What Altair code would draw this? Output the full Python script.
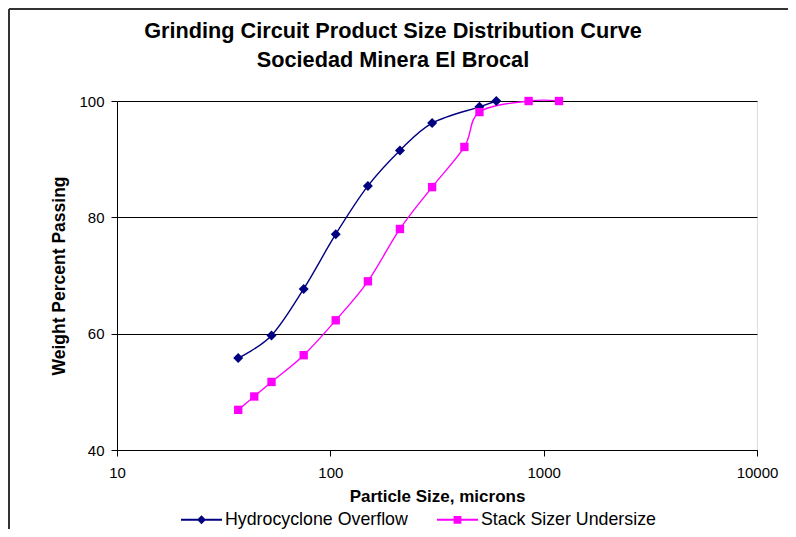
import altair as alt
import pandas as pd

# Hydrocyclone Overflow
hydro_size = [37, 53, 75, 106, 150, 212, 300, 500, 600]
hydro_pass = [55.8, 59.7, 67.7, 77.1, 85.4, 91.5, 96.2, 99.0, 100.0]

# Stack Sizer Undersize
stack_size = [37, 44, 53, 75, 106, 150, 212, 300, 425, 500, 850, 1180]
stack_pass = [46.9, 49.2, 51.7, 56.3, 62.3, 69.0, 78.0, 85.2, 92.1, 98.1, 100.0, 100.0]

series_names = ["Hydrocyclone Overflow", "Stack Sizer Undersize"]
series_colors = ["#000080", "#FF00FF"]

x_ticks = [10, 100, 1000, 10000]
y_ticks = [40, 60, 80, 100]

rows = []
for s, p in zip(hydro_size, hydro_pass):
    rows.append({"series": series_names[0], "size": s, "pass": p})
for s, p in zip(stack_size, stack_pass):
    rows.append({"series": series_names[1], "size": s, "pass": p})
df = pd.DataFrame(rows)

FONT = "Liberation Sans"

# legend symbols: line with marker
diamond_path = ("M-1,-0.05L-0.17,-0.05L0,-0.22L0.17,-0.05L1,-0.05L1,0.05"
                "L0.17,0.05L0,0.22L-0.17,0.05L-1,0.05Z")
square_path = ("M-1,-0.05L-0.19,-0.05L-0.19,-0.19L0.19,-0.19L0.19,-0.05L1,-0.05"
               "L1,0.05L0.19,0.05L0.19,0.19L-0.19,0.19L-0.19,0.05L-1,0.05Z")

x_enc = alt.X(
    "size:Q",
    scale=alt.Scale(type="log", domain=[10, 10000], nice=False),
    axis=alt.Axis(values=x_ticks, format="d", title="Particle Size, microns",
                  grid=False, tickSize=6, labelPadding=9, titlePadding=8,
                  labelFontSize=15, titleFontSize=17, titleFontWeight="bold",
                  labelFont=FONT, titleFont=FONT, labelColor="black",
                  titleColor="black", domainColor="black", tickColor="black",
                  labelFlush=False),
)
y_enc = alt.Y(
    "pass:Q",
    scale=alt.Scale(domain=[40, 100], nice=False, zero=False),
    axis=alt.Axis(values=y_ticks, title="Weight Percent Passing",
                  grid=True, gridColor="black", gridWidth=1, tickSize=6,
                  labelPadding=7, titlePadding=10,
                  labelFontSize=15, titleFontSize=17.5, titleFontWeight="bold",
                  labelFont=FONT, titleFont=FONT, labelColor="black",
                  titleColor="black", domainColor="black", tickColor="black",
                  labelFlush=False),
)

color_scale = alt.Scale(domain=series_names, range=series_colors)

base = alt.Chart(df)

leg = alt.Legend(
    title=None, orient="none", legendX=64, legendY=398, direction="horizontal",
    symbolSize=1681, symbolStrokeWidth=0, symbolOpacity=1,
    labelFontSize=17.8, labelFont=FONT, labelColor="black", labelOffset=3,
    columnPadding=29, labelLimit=400,
)

# legend-only layer (first, so its legend settings win): no rows drawn
legend_layer = base.transform_filter("datum.size < 0").mark_point(filled=True).encode(
    x=x_enc, y=y_enc,
    color=alt.Color("series:N", scale=color_scale, legend=leg),
    shape=alt.Shape("series:N", scale=alt.Scale(domain=series_names,
                                                range=[diamond_path, square_path]),
                    legend=leg),
)

lines = base.mark_line(interpolate="cardinal", strokeWidth=1.4, clip=False).encode(
    x=x_enc, y=y_enc,
    color=alt.Color("series:N", scale=color_scale),
    detail="series:N",
)

pts_h = base.transform_filter(alt.datum.series == series_names[0]).mark_point(
    shape="diamond", filled=True, size=100, opacity=1
).encode(x=x_enc, y=y_enc, color=alt.Color("series:N", scale=color_scale))

pts_s = base.transform_filter(alt.datum.series == series_names[1]).mark_point(
    shape="square", filled=True, size=70, opacity=1
).encode(x=x_enc, y=y_enc, color=alt.Color("series:N", scale=color_scale))

# outer chart frame (decoration)
frame_top = alt.Chart(pd.DataFrame({"a": [0]})).mark_rule(
    color="#333333", strokeWidth=2, clip=False
).encode(x=alt.value(-108), x2=alt.value(700), y=alt.value(-92))
frame_left = alt.Chart(pd.DataFrame({"a": [0]})).mark_rule(
    color="#333333", strokeWidth=2, clip=False
).encode(x=alt.value(-108), y=alt.value(-92), y2=alt.value(460))

chart = alt.layer(legend_layer, lines, pts_h, pts_s, frame_top, frame_left).properties(
    width=640, height=349,
    title=alt.TitleParams(
        text=["Grinding Circuit Product Size Distribution Curve", "Sociedad Minera El Brocal"],
        fontSize=21.7, font=FONT, fontWeight="bold", color="black",
        anchor="middle", frame="group", dx=-44, dy=88, offset=24, lineHeight=29,
    ),
    autosize=alt.AutoSizeParams(type="none"),
    padding={"left": 109, "top": 93, "right": 31, "bottom": 79},
).configure_view(
    stroke="#808080", strokeWidth=1
).configure(
    background="white"
)

chart.save("out.html", embed_options={"renderer": "svg", "actions": False})
